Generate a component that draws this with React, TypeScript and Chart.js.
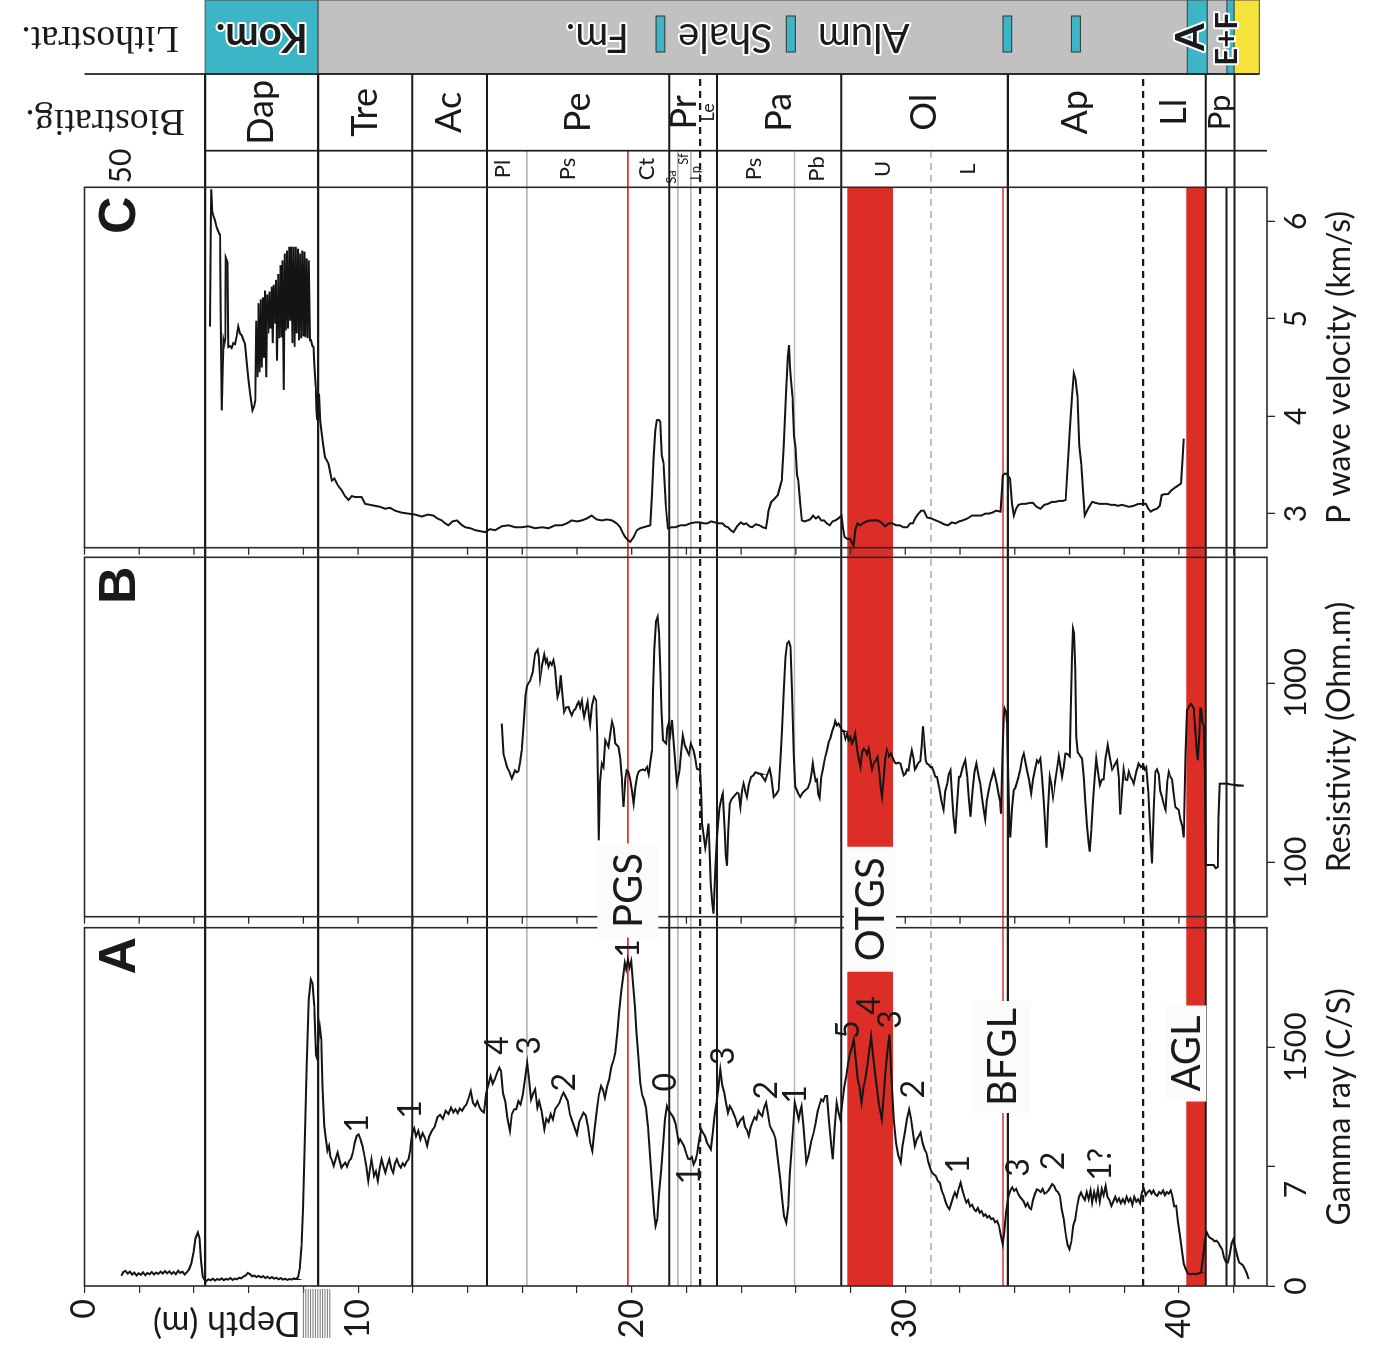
import React, { useEffect, useRef } from 'react';
import { Chart, registerables } from 'chart.js';

Chart.register(...registerables);

// ---------------- data ----------------
const DEPTH_TICKS = [0, 2, 4, 6, 8, 10, 12, 14, 16, 18, 20, 22, 24, 26, 28, 30, 32, 34, 36, 38, 40, 42];
const DEPTH_LABELS = [0, 10, 20, 30, 40];
const GR_TICKS = [0, 750, 1500];
const GR_TICK_LABELS = ['0', '7      ', '1500'];
const RES_TICKS = [100, 1000];
const VP_TICKS = [3, 4, 5, 6];

// [depth m, gamma ray C/S]
const GAMMA_RAY: [number, number][] = [
  [1.35, 64], [1.42, 88], [1.5, 95], [1.58, 78], [1.66, 90], [1.74, 72], [1.82, 84], [1.9, 66], [1.98, 80], [2.06, 70],
  [2.14, 86], [2.22, 68], [2.3, 82], [2.38, 74], [2.46, 88], [2.54, 72], [2.62, 84], [2.7, 76], [2.78, 90], [2.86, 78],
  [2.94, 94], [3.02, 80], [3.1, 92], [3.18, 76], [3.26, 88], [3.34, 74], [3.42, 96], [3.5, 82], [3.58, 90], [3.66, 72],
  [3.74, 86], [3.82, 104], [3.9, 140], [3.98, 210], [4.06, 300], [4.14, 336], [4.2, 300], [4.26, 160], [4.32, 60], [4.38, 40],
  [4.45, 30], [4.53, 42], [4.61, 36], [4.69, 46], [4.77, 34], [4.85, 44], [4.93, 38], [5.01, 48], [5.09, 36], [5.17, 45],
  [5.25, 40], [5.33, 50], [5.41, 38], [5.49, 46], [5.57, 42], [5.65, 52], [5.73, 48], [5.81, 60], [5.89, 66], [5.97, 82],
  [6.05, 74], [6.13, 60], [6.21, 66], [6.29, 56], [6.37, 64], [6.45, 54], [6.53, 62], [6.61, 50], [6.69, 58], [6.77, 48],
  [6.85, 56], [6.93, 46], [7.01, 52], [7.09, 42], [7.17, 50], [7.25, 40], [7.33, 46], [7.41, 38], [7.49, 44], [7.57, 40],
  [7.65, 48], [7.73, 44], [7.81, 56], [7.87, 110], [7.93, 250], [7.99, 480], [8.05, 900], [8.12, 1400], [8.2, 1800], [8.27, 1924],
  [8.33, 1900], [8.4, 1760], [8.46, 1450], [8.5, 1430], [8.55, 1560], [8.6, 1630], [8.65, 1550], [8.7, 1250], [8.76, 1005], [8.82, 930],
  [8.88, 850], [8.94, 880], [8.98, 815], [9.04, 790], [9.11, 754], [9.18, 800], [9.25, 838], [9.32, 790], [9.39, 743], [9.46, 760],
  [9.53, 775], [9.6, 750], [9.67, 785], [9.74, 800], [9.81, 838], [9.88, 900], [9.95, 942], [10.02, 952], [10.09, 920], [10.16, 879],
  [10.23, 820], [10.3, 754], [10.37, 660], [10.43, 730], [10.49, 796], [10.54, 740], [10.58, 691], [10.65, 720], [10.72, 660], [10.79, 740],
  [10.86, 796], [10.93, 750], [11.0, 712], [11.07, 760], [11.14, 796], [11.21, 740], [11.28, 712], [11.35, 770], [11.42, 796], [11.49, 760],
  [11.56, 743], [11.63, 770], [11.7, 754], [11.77, 780], [11.84, 796], [11.91, 858], [11.98, 960], [12.05, 990], [12.12, 940], [12.2, 975],
  [12.28, 920], [12.36, 960], [12.44, 930], [12.52, 880], [12.6, 940], [12.7, 975], [12.8, 1000], [12.9, 1060], [13.0, 1075], [13.1, 1050],
  [13.2, 1100], [13.3, 1080], [13.4, 1120], [13.48, 1090], [13.56, 1110], [13.64, 1085], [13.72, 1115], [13.8, 1100], [13.88, 1125], [13.96, 1140],
  [14.04, 1180], [14.12, 1224], [14.2, 1150], [14.28, 1130], [14.36, 1160], [14.44, 1120], [14.52, 1100], [14.6, 1090], [14.68, 1214], [14.76, 1260],
  [14.84, 1318], [14.92, 1270], [15.0, 1300], [15.08, 1340], [15.16, 1371], [15.22, 1350], [15.3, 1210], [15.38, 1160], [15.46, 1050], [15.55, 973],
  [15.62, 1080], [15.7, 1109], [15.78, 1110], [15.86, 1161], [15.94, 1140], [16.02, 1200], [16.1, 1300], [16.18, 1402], [16.25, 1300], [16.32, 1172],
  [16.4, 1210], [16.47, 1235], [16.55, 1120], [16.62, 1160], [16.7, 1100], [16.81, 984], [16.88, 1050], [16.96, 1030], [17.04, 1080], [17.12, 1046],
  [17.2, 1110], [17.28, 1130], [17.36, 1150], [17.44, 1190], [17.51, 1214], [17.58, 1190], [17.66, 1161], [17.74, 1080], [17.82, 1040], [17.9, 1000],
  [18.0, 952], [18.08, 1030], [18.16, 1060], [18.24, 1088], [18.32, 1070], [18.4, 1000], [18.48, 900], [18.56, 848], [18.64, 980], [18.72, 1100],
  [18.8, 1200], [18.88, 1256], [18.95, 1230], [19.02, 1182], [19.1, 1250], [19.18, 1300], [19.26, 1380], [19.34, 1420], [19.4, 1465], [19.48, 1600],
  [19.54, 1715], [19.62, 1850], [19.7, 1960], [19.75, 2029], [19.8, 1990], [19.86, 2050], [19.92, 2000], [19.98, 2040], [20.05, 1900], [20.12, 1750],
  [20.17, 1611], [20.24, 1450], [20.31, 1276], [20.38, 1200], [20.45, 1170], [20.52, 1119], [20.6, 1000], [20.68, 800], [20.76, 600], [20.82, 450],
  [20.87, 378], [20.93, 420], [21.0, 580], [21.08, 733], [21.15, 900], [21.22, 1050], [21.29, 1130], [21.36, 1100], [21.44, 1080], [21.52, 1060],
  [21.6, 1020], [21.66, 960], [21.72, 900], [21.77, 921], [21.84, 900], [21.91, 879], [22.0, 830], [22.06, 800], [22.12, 796], [22.2, 810],
  [22.26, 764], [22.33, 790], [22.4, 837], [22.47, 920], [22.54, 984], [22.61, 960], [22.68, 942], [22.75, 900], [22.82, 880], [22.89, 858],
  [22.96, 960], [23.03, 1067], [23.1, 1150], [23.17, 1250], [23.24, 1360], [23.31, 1260], [23.38, 1214], [23.45, 1150], [23.52, 1088], [23.59, 1130],
  [23.66, 1109], [23.73, 1080], [23.8, 1050], [23.87, 1005], [23.94, 1030], [24.0, 1046], [24.07, 1060], [24.14, 1000], [24.21, 980], [24.28, 942],
  [24.35, 1000], [24.42, 1030], [24.49, 1060], [24.56, 1046], [24.63, 1100], [24.7, 1080], [24.77, 1067], [24.84, 1120], [24.91, 1151], [24.98, 1080],
  [25.05, 1005], [25.12, 980], [25.19, 960], [25.26, 921], [25.34, 800], [25.43, 670], [25.5, 540], [25.57, 440], [25.65, 398], [25.72, 500],
  [25.78, 700], [25.84, 850], [25.9, 1000], [25.96, 1151], [26.03, 1100], [26.1, 1046], [26.16, 1100], [26.21, 1130], [26.28, 1000], [26.38, 775],
  [26.46, 820], [26.55, 900], [26.65, 963], [26.72, 1020], [26.8, 1100], [26.87, 1140], [26.93, 1172], [27.0, 1160], [27.07, 1193], [27.14, 1193],
  [27.2, 1050], [27.28, 900], [27.35, 796], [27.42, 1000], [27.49, 1151], [27.56, 1090], [27.63, 1046], [27.7, 1150], [27.77, 1250], [27.84, 1318],
  [27.91, 1400], [27.98, 1460], [28.05, 1500], [28.12, 1548], [28.19, 1420], [28.26, 1297], [28.33, 1250], [28.4, 1151], [28.47, 1250], [28.54, 1300],
  [28.61, 1381], [28.68, 1480], [28.75, 1569], [28.82, 1450], [28.89, 1339], [28.96, 1250], [29.03, 1150], [29.08, 1100], [29.14, 1046], [29.21, 1200],
  [29.28, 1350], [29.35, 1480], [29.42, 1579], [29.5, 1300], [29.58, 1046], [29.66, 900], [29.74, 820], [29.83, 775], [29.9, 880], [29.98, 960],
  [30.06, 1050], [30.14, 1109], [30.21, 1050], [30.28, 960], [30.35, 879], [30.42, 920], [30.49, 940], [30.56, 963], [30.63, 900], [30.7, 860],
  [30.77, 837], [30.84, 780], [30.91, 740], [30.98, 712], [31.05, 700], [31.12, 690], [31.19, 660], [31.26, 649], [31.33, 600], [31.4, 570],
  [31.47, 530], [31.54, 500], [31.61, 482], [31.68, 520], [31.75, 560], [31.81, 587], [31.88, 560], [31.95, 610], [32.02, 649], [32.09, 600],
  [32.16, 560], [32.23, 524], [32.3, 540], [32.37, 500], [32.44, 510], [32.51, 482], [32.58, 470], [32.65, 490], [32.72, 460], [32.79, 470],
  [32.86, 440], [32.93, 450], [33.0, 430], [33.07, 440], [33.14, 420], [33.21, 425], [33.28, 400], [33.35, 409], [33.42, 380], [33.49, 320],
  [33.56, 263], [33.62, 340], [33.68, 460], [33.77, 566], [33.84, 600], [33.91, 620], [33.98, 597], [34.05, 610], [34.12, 580], [34.19, 560],
  [34.26, 545], [34.33, 530], [34.4, 500], [34.47, 520], [34.54, 490], [34.6, 482], [34.67, 540], [34.74, 580], [34.81, 607], [34.88, 600],
  [34.95, 590], [35.02, 610], [35.09, 580], [35.16, 587], [35.23, 600], [35.3, 620], [35.37, 640], [35.44, 628], [35.51, 600], [35.58, 590],
  [35.65, 566], [35.72, 480], [35.79, 419], [35.86, 330], [35.93, 260], [36.0, 231], [36.07, 280], [36.14, 380], [36.21, 419], [36.28, 500],
  [36.35, 560], [36.42, 587], [36.49, 560], [36.56, 540], [36.63, 590], [36.7, 545], [36.77, 600], [36.83, 524], [36.9, 590], [36.97, 540],
  [37.04, 607], [37.11, 530], [37.18, 610], [37.25, 570], [37.32, 628], [37.39, 560], [37.46, 540], [37.53, 503], [37.6, 530], [37.67, 560],
  [37.74, 530], [37.81, 550], [37.88, 520], [37.95, 545], [38.02, 520], [38.09, 560], [38.16, 530], [38.23, 550], [38.3, 510], [38.37, 560],
  [38.44, 530], [38.51, 545], [38.58, 520], [38.65, 590], [38.72, 607], [38.79, 570], [38.86, 590], [38.93, 600], [39.0, 580], [39.07, 600],
  [39.14, 575], [39.21, 566], [39.28, 590], [39.35, 580], [39.42, 600], [39.49, 570], [39.56, 590], [39.63, 580], [39.7, 600], [39.76, 566],
  [39.83, 500], [39.9, 503], [39.97, 400], [40.04, 315], [40.11, 220], [40.18, 140], [40.25, 106], [40.32, 80], [40.39, 75], [40.46, 74],
  [40.53, 78], [40.6, 74], [40.67, 76], [40.74, 80], [40.81, 85], [40.88, 180], [40.95, 290], [41.02, 336], [41.09, 310], [41.16, 300],
  [41.23, 294], [41.3, 280], [41.37, 285], [41.44, 273], [41.51, 250], [41.58, 231], [41.65, 180], [41.72, 150], [41.79, 148], [41.86, 200],
  [41.93, 270], [41.99, 294], [42.06, 240], [42.13, 190], [42.2, 148], [42.27, 140], [42.34, 130], [42.41, 106], [42.48, 80], [42.55, 43],
];

// [depth m, resistivity Ohm.m]
const RESISTIVITY: [number, number][] = [
  [15.25, 594], [15.31, 404], [15.44, 341], [15.53, 320], [15.62, 294], [15.68, 310], [15.74, 326], [15.8, 318], [15.86, 322], [15.92, 360],
  [15.98, 422], [16.05, 600], [16.12, 850], [16.17, 960], [16.23, 1000], [16.29, 1030], [16.38, 1150], [16.47, 1458], [16.56, 1530], [16.6, 1400],
  [16.65, 1058], [16.72, 1250], [16.8, 1440], [16.86, 1300], [16.9, 1350], [16.96, 1228], [17.02, 1300], [17.08, 1260], [17.14, 1337], [17.2, 1200],
  [17.25, 950], [17.29, 836], [17.35, 900], [17.41, 1104], [17.47, 850], [17.53, 690], [17.6, 730], [17.69, 735], [17.75, 690], [17.81, 660],
  [17.88, 700], [17.95, 720], [18.01, 760], [18.06, 784], [18.12, 730], [18.18, 795], [18.22, 700], [18.26, 647], [18.33, 720], [18.39, 784],
  [18.44, 650], [18.48, 587], [18.55, 750], [18.63, 836], [18.7, 800], [18.74, 500], [18.8, 133], [18.84, 280], [18.91, 356], [18.97, 340],
  [19.03, 480], [19.09, 460], [19.15, 440], [19.22, 520], [19.28, 606], [19.34, 560], [19.4, 460], [19.46, 450], [19.52, 440], [19.58, 380],
  [19.64, 300], [19.7, 204], [19.76, 290], [19.82, 326], [19.88, 320], [19.95, 288], [20.01, 250], [20.07, 213], [20.13, 260], [20.19, 300],
  [20.25, 320], [20.31, 326], [20.4, 330], [20.49, 326], [20.56, 340], [20.62, 310], [20.68, 360], [20.74, 422], [20.78, 900], [20.82, 1521],
  [20.89, 2200], [20.95, 2332], [21.0, 1900], [21.04, 1228], [21.09, 700], [21.14, 480], [21.2, 470], [21.26, 460], [21.3, 560], [21.35, 594],
  [21.41, 520], [21.47, 622], [21.53, 480], [21.59, 360], [21.65, 275], [21.7, 300], [21.75, 326], [21.81, 420], [21.87, 510], [21.94, 450],
  [22.02, 422], [22.09, 400], [22.16, 460], [22.21, 440], [22.26, 422], [22.32, 380], [22.38, 333], [22.44, 330], [22.5, 326], [22.54, 240],
  [22.57, 165], [22.63, 140], [22.69, 121], [22.75, 140], [22.81, 165], [22.85, 110], [22.89, 76], [22.94, 60], [22.99, 52], [23.05, 90],
  [23.11, 133], [23.16, 170], [23.21, 202], [23.27, 225], [23.33, 242], [23.4, 150], [23.44, 110], [23.48, 96], [23.53, 150], [23.58, 213],
  [23.65, 225], [23.72, 232], [23.8, 240], [23.86, 245], [23.91, 242], [23.97, 204], [24.03, 250], [24.09, 275], [24.15, 250], [24.21, 232],
  [24.28, 270], [24.36, 300], [24.44, 305], [24.52, 318], [24.61, 315], [24.7, 312], [24.78, 300], [24.88, 285], [24.96, 310], [25.04, 333],
  [25.1, 300], [25.19, 232], [25.28, 240], [25.37, 253], [25.44, 380], [25.49, 544], [25.56, 900], [25.62, 1400], [25.68, 1656], [25.74, 1700],
  [25.8, 1590], [25.86, 900], [25.92, 400], [25.98, 264], [26.05, 250], [26.1, 240], [26.16, 232], [26.25, 245], [26.35, 253], [26.44, 260],
  [26.53, 285], [26.58, 320], [26.62, 356], [26.66, 320], [26.72, 285], [26.77, 290], [26.82, 240], [26.87, 229], [26.93, 300], [26.99, 333],
  [27.06, 380], [27.14, 422], [27.2, 470], [27.26, 490], [27.33, 540], [27.4, 580], [27.44, 615], [27.5, 580], [27.56, 594], [27.62, 570],
  [27.69, 544], [27.75, 540], [27.81, 490], [27.87, 522], [27.93, 480], [27.99, 500], [28.05, 460], [28.11, 480], [28.17, 522], [28.24, 420],
  [28.3, 380], [28.36, 341], [28.42, 410], [28.48, 430], [28.54, 422], [28.6, 400], [28.66, 430], [28.72, 380], [28.78, 330], [28.84, 356],
  [28.92, 370], [28.99, 387], [29.05, 320], [29.1, 260], [29.15, 232], [29.21, 300], [29.27, 380], [29.33, 422], [29.4, 390], [29.48, 404],
  [29.55, 380], [29.62, 360], [29.67, 356], [29.74, 360], [29.82, 356], [29.88, 330], [29.94, 306], [30.0, 312], [30.06, 330], [30.12, 326],
  [30.18, 380], [30.24, 422], [30.3, 380], [30.35, 330], [30.4, 340], [30.48, 360], [30.55, 367], [30.6, 450], [30.65, 574], [30.7, 450],
  [30.75, 370], [30.79, 356], [30.86, 350], [30.92, 340], [30.98, 340], [31.04, 320], [31.1, 300], [31.16, 300], [31.24, 260], [31.32, 220],
  [31.4, 197], [31.46, 250], [31.53, 275], [31.59, 310], [31.65, 326], [31.7, 250], [31.76, 180], [31.83, 145], [31.9, 220], [31.96, 300],
  [32.01, 300], [32.1, 340], [32.19, 371], [32.26, 300], [32.32, 230], [32.38, 180], [32.46, 250], [32.53, 320], [32.6, 356], [32.67, 310],
  [32.74, 275], [32.8, 230], [32.86, 200], [32.92, 174], [32.98, 220], [33.05, 253], [33.11, 280], [33.17, 300], [33.23, 326], [33.29, 300],
  [33.35, 270], [33.41, 242], [33.46, 220], [33.5, 187], [33.55, 400], [33.6, 650], [33.63, 720], [33.68, 690], [33.72, 600], [33.76, 300],
  [33.8, 180], [33.84, 138], [33.9, 200], [33.96, 253], [34.02, 260], [34.08, 280], [34.14, 300], [34.2, 330], [34.27, 380], [34.33, 404],
  [34.39, 360], [34.45, 326], [34.52, 290], [34.6, 242], [34.67, 290], [34.74, 330], [34.81, 371], [34.87, 360], [34.94, 380], [35.0, 300],
  [35.06, 220], [35.12, 150], [35.16, 121], [35.22, 200], [35.28, 300], [35.34, 270], [35.4, 232], [35.47, 280], [35.54, 330], [35.61, 390],
  [35.67, 340], [35.73, 300], [35.79, 340], [35.85, 404], [35.89, 404], [35.95, 400], [36.01, 390], [36.05, 700], [36.09, 1400], [36.13, 2009],
  [36.17, 1900], [36.21, 1200], [36.25, 500], [36.3, 410], [36.34, 404], [36.4, 390], [36.46, 380], [36.52, 300], [36.58, 220], [36.64, 160],
  [36.7, 130], [36.74, 115], [36.8, 150], [36.86, 220], [36.92, 300], [36.98, 380], [37.04, 320], [37.11, 270], [37.18, 290], [37.25, 290],
  [37.32, 380], [37.4, 451], [37.48, 380], [37.56, 330], [37.65, 350], [37.74, 370], [37.8, 300], [37.86, 185], [37.92, 250], [37.98, 330],
  [38.04, 290], [38.11, 288], [38.17, 320], [38.23, 300], [38.29, 290], [38.35, 275], [38.44, 320], [38.53, 356], [38.61, 340], [38.69, 350],
  [38.75, 330], [38.81, 340], [38.88, 250], [38.95, 150], [39.02, 99], [39.08, 200], [39.14, 320], [39.2, 330], [39.26, 310], [39.32, 250],
  [39.38, 232], [39.45, 210], [39.51, 197], [39.57, 280], [39.63, 320], [39.69, 300], [39.75, 290], [39.81, 240], [39.87, 204], [39.93, 200],
  [39.99, 197], [40.05, 175], [40.12, 160], [40.18, 138], [40.24, 400], [40.3, 705], [40.37, 740], [40.44, 765], [40.5, 740], [40.54, 720],
  [40.6, 550], [40.65, 420], [40.69, 371], [40.74, 500], [40.78, 720], [40.81, 720], [40.86, 600], [40.91, 580], [40.95, 300], [40.98, 97],
  [41.1, 97], [41.2, 97], [41.27, 97], [41.35, 93], [41.42, 94.5], [41.45, 180], [41.49, 275], [41.6, 275], [41.76, 275], [41.9, 272],
  [42.1, 270], [42.37, 268],
];

// [depth m, P wave velocity km/s]
const P_WAVE: [number, number][] = [
  [4.59, 4.92], [4.61, 5.9], [4.63, 6.33], [4.67, 6.1], [4.72, 6.05], [4.77, 6.01], [4.82, 5.95], [4.87, 5.91], [4.95, 5.86], [4.98, 5.0],
  [5.02, 4.06], [5.05, 4.5], [5.08, 4.78], [5.11, 4.74], [5.14, 4.8], [5.16, 5.63], [5.2, 5.6], [5.23, 5.58], [5.25, 4.71], [5.32, 4.72],
  [5.38, 4.7], [5.44, 4.75], [5.5, 4.74], [5.56, 4.82], [5.62, 4.92], [5.68, 4.85], [5.75, 4.83], [5.81, 4.78], [5.87, 4.74], [5.93, 4.55],
  [5.99, 4.37], [6.07, 4.2], [6.14, 4.06], [6.2, 4.1], [6.24, 4.16], [6.28, 4.98], [6.32, 4.4], [6.36, 5.16], [6.4, 4.45], [6.44, 5.2],
  [6.48, 4.5], [6.52, 5.22], [6.56, 4.6], [6.6, 5.29], [6.64, 4.4], [6.68, 5.25], [6.72, 4.85], [6.76, 5.28], [6.8, 4.9], [6.84, 5.33],
  [6.88, 4.75], [6.92, 5.35], [6.96, 4.95], [7.0, 5.4], [7.04, 4.57], [7.08, 5.46], [7.12, 4.8], [7.16, 5.55], [7.2, 4.81], [7.24, 5.6],
  [7.28, 4.27], [7.32, 5.67], [7.36, 4.88], [7.4, 5.7], [7.44, 4.9], [7.48, 5.74], [7.52, 4.98], [7.56, 5.74], [7.6, 4.75], [7.64, 5.74],
  [7.68, 4.71], [7.72, 5.74], [7.76, 4.85], [7.8, 5.72], [7.84, 4.78], [7.88, 5.67], [7.92, 4.8], [7.96, 5.7], [8.0, 4.82], [8.04, 5.69],
  [8.08, 4.81], [8.12, 5.62], [8.16, 4.8], [8.2, 5.6], [8.24, 4.78], [8.28, 4.78], [8.33, 4.72], [8.37, 4.71], [8.41, 4.5], [8.45, 4.3],
  [8.48, 4.05], [8.51, 3.96], [8.54, 4.15], [8.57, 4.23], [8.62, 3.95], [8.67, 3.82], [8.73, 3.7], [8.79, 3.58], [8.85, 3.55], [8.92, 3.51],
  [8.98, 3.42], [9.04, 3.34], [9.13, 3.36], [9.22, 3.31], [9.31, 3.27], [9.4, 3.24], [9.52, 3.18], [9.65, 3.14], [9.77, 3.18], [9.89, 3.17],
  [10.01, 3.17], [10.13, 3.17], [10.26, 3.1], [10.44, 3.09], [10.62, 3.08], [10.8, 3.07], [10.99, 3.05], [11.17, 3.06], [11.35, 3.03], [11.59, 3.01],
  [11.84, 3.0], [12.08, 2.99], [12.33, 2.97], [12.55, 2.99], [12.75, 2.98], [12.9, 2.95], [13.06, 2.93], [13.18, 2.9], [13.3, 2.88], [13.45, 2.92],
  [13.61, 2.93], [13.76, 2.89], [13.91, 2.86], [14.1, 2.85], [14.28, 2.83], [14.46, 2.82], [14.64, 2.81], [14.82, 2.84], [15.01, 2.83], [15.25, 2.87],
  [15.5, 2.88], [15.74, 2.86], [15.98, 2.86], [16.22, 2.87], [16.47, 2.85], [16.72, 2.86], [16.96, 2.85], [17.2, 2.88], [17.45, 2.88], [17.63, 2.9],
  [17.81, 2.93], [18.0, 2.92], [18.18, 2.93], [18.36, 2.95], [18.54, 2.98], [18.72, 2.94], [18.91, 2.93], [19.1, 2.94], [19.28, 2.93], [19.45, 2.9],
  [19.58, 2.86], [19.68, 2.8], [19.76, 2.76], [19.85, 2.73], [19.95, 2.71], [20.07, 2.76], [20.19, 2.83], [20.31, 2.85], [20.43, 2.86], [20.56, 2.87],
  [20.68, 2.88], [20.74, 3.2], [20.8, 3.55], [20.86, 3.85], [20.92, 3.96], [21.0, 3.96], [21.04, 3.94], [21.1, 3.6], [21.16, 3.52], [21.24, 3.1],
  [21.32, 2.85], [21.45, 2.86], [21.59, 2.86], [21.78, 2.88], [21.96, 2.88], [22.14, 2.9], [22.32, 2.91], [22.5, 2.91], [22.64, 2.9], [22.77, 2.9],
  [22.9, 2.92], [23.04, 2.91], [23.18, 2.9], [23.32, 2.9], [23.42, 2.87], [23.52, 2.86], [23.62, 2.83], [23.72, 2.81], [23.85, 2.87], [23.99, 2.91],
  [24.09, 2.89], [24.19, 2.9], [24.3, 2.87], [24.4, 2.86], [24.53, 2.89], [24.67, 2.88], [24.79, 2.86], [24.91, 2.85], [24.96, 2.95], [25.0, 3.03],
  [25.1, 3.12], [25.21, 3.15], [25.34, 3.19], [25.48, 3.34], [25.56, 3.7], [25.64, 4.23], [25.7, 4.6], [25.75, 4.73], [25.79, 4.5], [25.82, 4.37],
  [25.88, 4.2], [25.93, 3.8], [25.99, 3.68], [26.04, 3.4], [26.09, 3.34], [26.16, 3.1], [26.22, 2.93], [26.32, 2.92], [26.42, 2.93], [26.52, 2.94],
  [26.63, 2.98], [26.73, 2.95], [26.83, 2.97], [26.93, 2.93], [27.03, 2.93], [27.13, 2.9], [27.24, 2.88], [27.34, 2.92], [27.44, 2.93], [27.55, 2.95],
  [27.67, 2.98], [27.72, 2.85], [27.78, 2.76], [27.88, 2.74], [27.98, 2.74], [28.05, 2.7], [28.11, 2.67], [28.18, 2.84], [28.25, 2.9], [28.35, 2.88],
  [28.45, 2.9], [28.58, 2.92], [28.72, 2.93], [28.85, 2.93], [28.99, 2.93], [29.12, 2.91], [29.26, 2.87], [29.4, 2.9], [29.53, 2.9], [29.66, 2.88],
  [29.8, 2.88], [29.93, 2.86], [30.07, 2.86], [30.18, 2.9], [30.28, 2.9], [30.38, 2.96], [30.48, 3.0], [30.58, 3.03], [30.68, 3.03], [30.8, 2.96],
  [30.95, 2.95], [31.12, 2.93], [31.29, 2.91], [31.42, 2.89], [31.56, 2.88], [31.7, 2.91], [31.83, 2.9], [31.97, 2.92], [32.1, 2.93], [32.27, 2.95],
  [32.44, 2.98], [32.61, 2.98], [32.78, 2.98], [32.92, 3.0], [33.05, 3.0], [33.18, 3.01], [33.32, 3.03], [33.48, 3.02], [33.53, 3.25], [33.56, 3.39],
  [33.63, 3.41], [33.7, 3.41], [33.77, 3.38], [33.83, 3.36], [33.9, 3.1], [33.97, 2.98], [34.05, 3.05], [34.13, 3.09], [34.27, 3.1], [34.4, 3.1],
  [34.54, 3.11], [34.67, 3.11], [34.8, 3.07], [34.94, 3.05], [35.08, 3.09], [35.21, 3.1], [35.35, 3.12], [35.48, 3.12], [35.62, 3.13], [35.75, 3.13],
  [35.86, 3.14], [35.94, 3.5], [36.02, 3.89], [36.09, 4.2], [36.16, 4.44], [36.22, 4.38], [36.29, 4.2], [36.36, 3.7], [36.43, 3.51], [36.5, 3.2],
  [36.56, 2.98], [36.63, 3.02], [36.7, 3.06], [36.83, 3.12], [36.96, 3.11], [37.1, 3.1], [37.23, 3.1], [37.37, 3.1], [37.51, 3.09], [37.64, 3.09],
  [37.78, 3.08], [37.91, 3.09], [38.05, 3.08], [38.18, 3.07], [38.35, 3.08], [38.52, 3.1], [38.65, 3.1], [38.79, 3.1], [38.88, 3.05], [38.97, 3.02],
  [39.08, 3.04], [39.2, 3.05], [39.3, 3.08], [39.37, 3.19], [39.48, 3.2], [39.6, 3.2], [39.73, 3.24], [39.87, 3.27], [39.98, 3.29], [40.08, 3.31],
  [40.13, 3.55], [40.18, 3.77],
];

// boundaries (depth m)
const ZONE_BOUNDARIES = [4.41, 8.54, 11.98, 14.71, 21.37, 23.12, 27.66, 33.75, 40.98, 42.03];
const ZONE_BOUNDARIES_DASHED = [22.5, 38.69];
const SUBZONE_BOUNDARIES = [16.17, 21.69, 22.16, 25.95];
const SUBZONE_BOUNDARIES_DASHED = [30.94];
const PANEL_LINES = [41.74];
const PGS_LINE = [19.86];
const BFGL_LINE = [33.57];
const RED_BANDS: [number, number][] = [[27.88, 29.55], [40.27, 40.98]];

const BIOZONES: [string, number, number][] = [
  ['Dap', 4.41, 8.54], ['Tre', 8.54, 11.98], ['Ac', 11.98, 14.71], ['Pe', 14.71, 21.37], ['Pr', 21.37, 22.5],
  ['Le', 22.5, 23.12], ['Pa', 23.12, 27.66], ['Ol', 27.66, 33.75], ['Ap', 33.75, 38.69], ['Ll', 38.69, 40.98], ['Pp', 40.98, 42.03],
];
const SUBZONES: [string, number][] = [
  ['Pl', 15.3], ['Ps', 17.67], ['Ct', 20.57], ['Ps', 24.48], ['Pb', 26.78], ['U', 29.19], ['L', 32.27],
];
const MINOR_SUBZONES: [string, number][] = [['Sa', 21.45], ['Sf', 21.92], ['Lp', 22.36]];

const LITHO_UNITS: [number, number, string][] = [
  [4.41, 8.54, 'cyan'], [8.54, 40.31, 'gray'], [40.31, 41.04, 'cyan'], [41.04, 41.76, 'gray'], [41.76, 42.02, 'cyan'], [42.02, 42.94, 'yellow'],
];
const LITHO_BEDS: [number, number][] = [[20.89, 21.21], [25.65, 25.98], [33.57, 33.89], [36.07, 36.4]];
const LITHO_LABELS: [string, number][] = [['Kom.', 6.48], ['Fm.', 18.75], ['Shale', 23.42], ['Alum', 28.48]];
const LITHO_SHORT_LABELS: [string, number][] = [['A', 40.42], ['E+F', 41.72]];

// [text, depth, axis, value]
const SURFACE_LABELS: [string, number, string, number][] = [
  ['PGS', 19.86, 'xB', 70], ['OTGS', 28.71, 'xB', 55], ['BFGL', 33.52, 'xA', 1438], ['AGL', 40.27, 'xA', 1460],
];
// [text, depth, gamma]
const SEQUENCE_LABELS: [string, number, number][] = [
  ['1', 9.95, 1020], ['1', 11.88, 1109], ['4', 15.06, 1511], ['3', 16.25, 1511], ['2', 17.51, 1279], ['1', 19.86, 2119],
  ['0', 21.22, 1279], ['1', 22.07, 695], ['3', 23.31, 1444], ['2', 24.91, 1230], ['1', 25.96, 1203], ['5', 27.91, 1611],
  ['4', 28.68, 1761], ['3', 29.42, 1674], ['2', 30.28, 1235], ['1', 31.93, 764], ['3', 34.12, 744], ['2', 35.37, 785], ['1?', 37.12, 764],
];

// ---------------- styles ----------------
const SANS = 'Lato, "Open Sans", sans-serif';
const SERIF = '"Liberation Serif", "DejaVu Serif", serif';
const INK = '#1a1a1a';
const RED = '#dc2e27';
const GRAY_LINE = '#b8b8b8';
const LITHO_COLORS: Record<string, string> = { cyan: '#3cb5c7', gray: '#c1c1c1', yellow: '#f5e23b' };
const LABEL_BOX: Record<string, [number, number]> = { PGS: [94, 61], OTGS: [125, 52], BFGL: [112, 58], AGL: [96, 40] };

function text(ctx: CanvasRenderingContext2D, s: string, x: number, y: number, font: string, opts: any = {}) {
  ctx.save();
  ctx.translate(x, y);
  if (opts.rotate) ctx.rotate(opts.rotate);
  ctx.font = font;
  ctx.textAlign = opts.align || 'center';
  ctx.textBaseline = opts.baseline || 'middle';
  if (opts.stroke) {
    ctx.lineJoin = 'round';
    ctx.strokeStyle = opts.stroke;
    ctx.lineWidth = opts.strokeWidth || 4;
    ctx.strokeText(s, 0, 0);
  }
  ctx.fillStyle = opts.color || INK;
  ctx.fillText(s, 0, 0);
  ctx.restore();
}

function hline(ctx: CanvasRenderingContext2D, x0: number, x1: number, y: number, color: string, width: number, dash: number[] = []) {
  ctx.save();
  ctx.beginPath();
  ctx.strokeStyle = color;
  ctx.lineWidth = width;
  ctx.setLineDash(dash);
  ctx.moveTo(x0, y);
  ctx.lineTo(x1, y);
  ctx.stroke();
  ctx.restore();
}

function vline(ctx: CanvasRenderingContext2D, x: number, y0: number, y1: number, color: string, width: number) {
  ctx.save();
  ctx.beginPath();
  ctx.strokeStyle = color;
  ctx.lineWidth = width;
  ctx.moveTo(x, y0);
  ctx.lineTo(x, y1);
  ctx.stroke();
  ctx.restore();
}

const wellLogPlugin = {
  id: 'wellLog',
  beforeDraw(chart: any) {
    const { ctx, width, height } = chart;
    ctx.save();
    ctx.fillStyle = '#ffffff';
    ctx.fillRect(0, 0, width, height);
    ctx.restore();
  },
  beforeDatasetsDraw(chart: any) {
    const ctx: CanvasRenderingContext2D = chart.ctx;
    const area = chart.chartArea;
    const ys = chart.scales.y;
    const A = chart.scales.xA, B = chart.scales.xB, C = chart.scales.xC;
    const py = (d: number) => ys.getPixelForValue(d);
    const L = A.left, R = area.right;
    const subX1 = R + 36.6, mainX1 = subX1 + 76.7, W = chart.width;

    // red bands
    ctx.save();
    ctx.fillStyle = RED;
    RED_BANDS.forEach(([a, b]) => ctx.fillRect(L, py(a), R - L, py(b) - py(a)));
    ctx.restore();

    // lithostratigraphy column
    LITHO_UNITS.forEach(([a, b, c]) => {
      ctx.save();
      ctx.fillStyle = LITHO_COLORS[c];
      ctx.fillRect(mainX1, py(a), W - mainX1, py(b) - py(a));
      ctx.strokeStyle = '#4a4a4a';
      ctx.lineWidth = 1;
      ctx.strokeRect(mainX1, py(a), W - mainX1, py(b) - py(a));
      ctx.restore();
    });
    LITHO_BEDS.forEach(([a, b]) => {
      ctx.save();
      ctx.fillStyle = LITHO_COLORS.cyan;
      ctx.fillRect(W - 52, py(a), 36, py(b) - py(a));
      ctx.strokeStyle = '#333';
      ctx.lineWidth = 1;
      ctx.strokeRect(W - 52, py(a), 36, py(b) - py(a));
      ctx.restore();
    });

    // boundary lines
    SUBZONE_BOUNDARIES.forEach((d) => hline(ctx, L, subX1, py(d), GRAY_LINE, 1.7));
    SUBZONE_BOUNDARIES_DASHED.forEach((d) => hline(ctx, L, subX1, py(d), '#a9a9a9', 1.7, [7, 5]));
    PGS_LINE.forEach((d) => hline(ctx, L, subX1, py(d), '#e2322c', 1.7));
    BFGL_LINE.forEach((d) => hline(ctx, L, R, py(d), '#e2322c', 1.7));
    PANEL_LINES.forEach((d) => hline(ctx, L, R, py(d), INK, 2));
    ZONE_BOUNDARIES.forEach((d) => hline(ctx, L, mainX1, py(d), INK, 2.1));
    ZONE_BOUNDARIES_DASHED.forEach((d) => hline(ctx, L, mainX1, py(d), INK, 2.2, [7, 5]));

    // panel frames and their depth ticks
    [A, B, C].forEach((s: any, i: number) => {
      ctx.save();
      ctx.strokeStyle = '#2a2a2a';
      ctx.lineWidth = 1.6;
      ctx.strokeRect(s.left, area.top, s.right - s.left, area.bottom - area.top);
      ctx.restore();
      if (i > 0) DEPTH_TICKS.forEach((d) => hline(ctx, s.left - 7, s.left, py(d), '#2a2a2a', 1.3));
    });
    // stratigraphy column separators
    vline(ctx, subX1, py(4.41), area.bottom, INK, 1.7);
    vline(ctx, mainX1, area.top, py(42.94), INK, 1.7);

    // biozone labels
    const mainC = (subX1 + mainX1) / 2, subC = (R + subX1) / 2;
    BIOZONES.forEach(([s, a, b]) => {
      const size = s === 'Le' ? 18 : s === 'Pp' ? 31 : 36;
      text(ctx, s, mainC, py((a + b) / 2), `${size}px ${SANS}`);
    });
    SUBZONES.forEach(([s, d]) => text(ctx, s, subC, py(d), `22px ${SANS}`));
    const minorX = [subC - 8, subC + 10, subC - 4];
    MINOR_SUBZONES.forEach(([s, d], i) => text(ctx, s, minorX[i], py(d), `13px ${SANS}`));

    // lithostratigraphy labels
    const lithoC = (mainX1 + W) / 2;
    LITHO_LABELS.forEach(([s, d]) => {
      const bold = s === 'Kom.';
      text(ctx, s, lithoC, py(d), `${bold ? 'bold ' : ''}40px ${SANS}`, {
        rotate: -Math.PI / 2, stroke: '#ffffff', strokeWidth: 4,
      });
    });
    LITHO_SHORT_LABELS.forEach(([s, d]) => {
      const size = s === 'A' ? 40 : 31;
      text(ctx, s, lithoC + (s === 'A' ? 0 : -2), py(d) + 1, `bold ${size}px ${SANS}`, { stroke: '#ffffff', strokeWidth: 4 });
    });

    // headers and depth title
    text(ctx, 'Lithostrat.', lithoC, 100, `38px ${SERIF}`, { rotate: -Math.PI / 2 });
    text(ctx, 'Biostratig.', mainC - 8, 105, `38px ${SERIF}`, { rotate: -Math.PI / 2 });
    text(ctx, '50', subC + 3, 121, `30px ${SANS}`);
    text(ctx, 'Depth (m)', 29, py(5.2), `34px ${SANS}`, { rotate: -Math.PI / 2 });
    ctx.save();
    ctx.strokeStyle = '#555';
    ctx.lineWidth = 0.8;
    const hy0 = py(8.0);
    for (let i = 0; i < 12; i++) {
      ctx.beginPath();
      ctx.moveTo(14, hy0 + i * 2.4);
      ctx.lineTo(63, hy0 + i * 2.4);
      ctx.stroke();
    }
    ctx.restore();
  },
  afterDatasetsDraw(chart: any) {
    const ctx: CanvasRenderingContext2D = chart.ctx;
    const ys = chart.scales.y;
    const py = (d: number) => ys.getPixelForValue(d);
    const A = chart.scales.xA;

    SURFACE_LABELS.forEach(([s, d, axis, v]) => {
      const x = chart.scales[axis].getPixelForValue(v);
      const y = py(d);
      const [w, h] = LABEL_BOX[s];
      ctx.save();
      ctx.fillStyle = '#fbfbfb';
      ctx.fillRect(x - w / 2, y - h / 2, w, h);
      ctx.restore();
      text(ctx, s, x, y + 1, `40px ${SANS}`);
    });
    SEQUENCE_LABELS.forEach(([s, d, v]) => text(ctx, s, A.getPixelForValue(v), py(d) + 1, `32px ${SANS}`));

    const letters: [string, any][] = [['A', A], ['B', chart.scales.xB], ['C', chart.scales.xC]];
    letters.forEach(([s, sc]) => text(ctx, s, sc.right - 28, py(1.25) + 2, `bold 52px "Liberation Sans", Arial, sans-serif`));
  },
};

function axisCommon(title: string) {
  return {
    position: 'bottom' as const,
    stack: 'panels',
    afterFit: (s: any) => { s.height = 106; },
    grid: { display: true, drawOnChartArea: false, drawTicks: true, tickLength: 8, color: '#2a2a2a', lineWidth: 1.3 },
    border: { display: false },
    ticks: { font: { family: SANS, size: 30 }, color: INK, padding: 3, maxRotation: 0, autoSkip: false },
    title: { display: true, text: title, font: { family: SANS, size: 32 }, color: INK, padding: { top: 0, bottom: 14 } },
  };
}

export default function App() {
  const ref = useRef<HTMLCanvasElement>(null);

  useEffect(() => {
    const canvas = ref.current;
    if (!canvas) return;
    const line = { pointRadius: 0, borderWidth: 2, borderColor: '#141414', tension: 0, fill: false };
    const chart = new Chart(canvas, {
      type: 'line',
      data: {
        datasets: [
          { label: 'Gamma ray', data: GAMMA_RAY.map(([d, v]) => ({ x: v, y: d })), xAxisID: 'xA', yAxisID: 'y', ...line },
          { label: 'Resistivity', data: RESISTIVITY.map(([d, v]) => ({ x: v, y: d })), xAxisID: 'xB', yAxisID: 'y', ...line },
          { label: 'P wave velocity', data: P_WAVE.map(([d, v]) => ({ x: v, y: d })), xAxisID: 'xC', yAxisID: 'y', ...line },
        ],
      } as any,
      options: {
        animation: false,
        responsive: false,
        devicePixelRatio: 1,
        indexAxis: 'y',
        layout: { padding: { left: 0, right: 187.3, top: 84.5, bottom: 0 } },
        plugins: { legend: { display: false }, tooltip: { enabled: false } },
        scales: {
          y: {
            type: 'linear', position: 'left', reverse: true, min: 0, max: 43.22,
            afterFit: (s: any) => { s.width = 66; },
            afterBuildTicks: (s: any) => { s.ticks = DEPTH_TICKS.map((v) => ({ value: v })); },
            grid: { display: true, drawOnChartArea: false, drawTicks: true, tickLength: 7, color: '#2a2a2a', lineWidth: 1.2 },
            border: { display: false },
            ticks: {
              font: { family: SANS, size: 34 }, color: INK, padding: 6, autoSkip: false, maxRotation: 0,
              callback: (v: any) => (DEPTH_LABELS.includes(Number(v)) ? String(v) : ''),
            },
          },
          xA: {
            type: 'linear', min: 0, max: 2250, weight: 1, stackWeight: 358.3, ...axisCommon('Gamma ray (C/S)'),
            afterBuildTicks: (s: any) => { s.ticks = GR_TICKS.map((v) => ({ value: v })); },
            ticks: { ...axisCommon('').ticks, callback: (v: any) => GR_TICK_LABELS[GR_TICKS.indexOf(Number(v))] ?? '' },
          },
          xGap1: { type: 'linear', axis: 'x', position: 'bottom', stack: 'panels', weight: 2, stackWeight: 11, min: 0, max: 1, display: false },
          xB: {
            type: 'logarithmic', min: 50, max: 5000, weight: 3, stackWeight: 359.4, ...axisCommon('Resistivity (Ohm.m)'),
            afterBuildTicks: (s: any) => { s.ticks = RES_TICKS.map((v) => ({ value: v })); },
            ticks: { ...axisCommon('').ticks, callback: (v: any) => String(v) },
          },
          xGap2: { type: 'linear', axis: 'x', position: 'bottom', stack: 'panels', weight: 4, stackWeight: 9.6, min: 0, max: 1, display: false },
          xC: {
            type: 'linear', min: 2.65, max: 6.35, weight: 5, stackWeight: 360.4, ...axisCommon('P wave velocity (km/s)'),
            afterBuildTicks: (s: any) => { s.ticks = VP_TICKS.map((v) => ({ value: v })); },
            ticks: { ...axisCommon('').ticks, callback: (v: any) => String(v) },
          },
        },
      } as any,
      plugins: [wellLogPlugin],
    });
    return () => chart.destroy();
  }, []);

  return (
    <div style={{ position: 'absolute', left: 0, top: 0, width: 1373, height: 1352, overflow: 'hidden', background: '#fff' }}>
      <div
        style={{
          position: 'absolute', left: 0, top: 0, width: 1352, height: 1373,
          transformOrigin: '0 0', transform: 'translate(0px, 1352px) rotate(-90deg)',
        }}
      >
        <canvas ref={ref} width={1352} height={1373} style={{ display: 'block', width: 1352, height: 1373 }} />
      </div>
    </div>
  );
}
